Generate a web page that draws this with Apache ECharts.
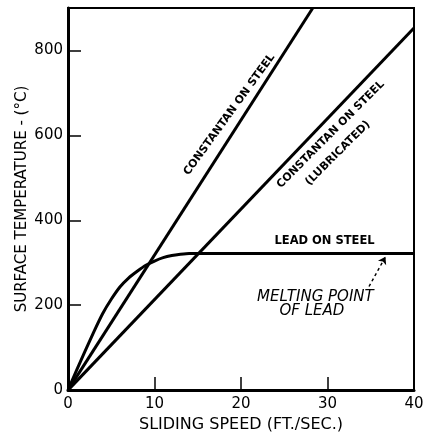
<!DOCTYPE html>
<html>
<head>
<meta charset="utf-8">
<script src="https://cdn.jsdelivr.net/npm/echarts@6/dist/echarts.min.js"></script>
<style>html,body{margin:0;padding:0;background:#fff}#c{width:436px;height:438px}</style>
</head>
<body>
<div id="c"></div>
<script>
// ---- data ----
const xTicks = [0, 10, 20, 30, 40];
const yTicks = [0, 200, 400, 600, 800];
const constantanSpeed = [0, 28.3];
const constantanTemp = [0, 900];
const lubricatedSpeed = [0, 40];
const lubricatedTemp = [0, 853];
const leadSpeed = [0, 1, 2, 3, 4, 5, 6, 7, 8, 9, 10, 11, 12, 13, 14, 15, 40];
const leadTemp = [0, 47, 93, 138, 180, 214, 243, 264, 280, 294, 304, 312, 317, 320, 322, 322, 322];
const arrowFrom = [34.8, 244];
const arrowTo = [36.7, 314];

const FONT = '"DejaVu Sans", "Liberation Sans", sans-serif';
const zip = (a, b) => a.map((v, i) => [v, b[i]]);

const chart = echarts.init(document.getElementById('c'), null, {renderer: 'canvas'});
const lineStyle = {color: '#000', width: 3};
chart.setOption({
  animation: false,
  backgroundColor: '#fff',
  grid: {left: 68, right: 22, top: 8, bottom: 46, show: true, borderColor: '#000', borderWidth: 2, backgroundColor: 'transparent'},
  xAxis: {
    type: 'value', min: 0, max: 40, interval: 10,
    name: 'SLIDING SPEED (FT./SEC.)', nameLocation: 'middle', nameGap: 22,
    nameTextStyle: {color: '#000', fontSize: 16, fontFamily: FONT},
    axisLine: {lineStyle: {color: '#000', width: 3}},
    axisTick: {inside: true, length: 13, lineStyle: {color: '#000', width: 1.5}, customValues: xTicks},
    axisLabel: {color: '#000', fontSize: 15, fontFamily: FONT, margin: 7, customValues: xTicks},
    splitLine: {show: false}
  },
  yAxis: {
    type: 'value', min: 0, max: 900, interval: 200,
    name: 'SURFACE TEMPERATURE - (°C)', nameLocation: 'middle', nameGap: 38, nameRotate: 90,
    nameMoveOverlap: false,
    nameTextStyle: {color: '#000', fontSize: 15, fontFamily: FONT},
    axisLine: {lineStyle: {color: '#000', width: 3}},
    axisTick: {inside: true, length: 13, lineStyle: {color: '#000', width: 1.5}, customValues: yTicks},
    axisLabel: {color: '#000', fontSize: 15, fontFamily: FONT, margin: 5, customValues: yTicks},
    splitLine: {show: false}
  },
  series: [
    {type: 'line', name: 'Constantan on steel', data: zip(constantanSpeed, constantanTemp), showSymbol: false, lineStyle: lineStyle, clip: true},
    {type: 'line', name: 'Constantan on steel (lubricated)', data: zip(lubricatedSpeed, lubricatedTemp), showSymbol: false, lineStyle: lineStyle, clip: true},
    {type: 'line', name: 'Lead on steel', data: zip(leadSpeed, leadTemp), showSymbol: false, smooth: 0.15, lineStyle: lineStyle, clip: true,
      markLine: {
        silent: true, symbol: ['none', 'arrow'], symbolSize: 7, label: {show: false},
        lineStyle: {color: '#000', width: 1.5, type: [3, 3]},
        data: [[{coord: arrowFrom}, {coord: arrowTo}]]
      }
    }
  ]
});

// annotation texts anchored in data coordinates
const notes = [
  {text: 'CONSTANTAN ON STEEL', at: [18.66, 649], rot: 54, font: 'bold 11px ' + FONT},
  {text: 'CONSTANTAN ON STEEL', at: [30.36, 602], rot: 45, font: 'bold 11px ' + FONT},
  {text: '(LUBRICATED)', at: [31.2, 558], rot: 45, font: 'bold 11px ' + FONT},
  {text: 'LEAD ON STEEL', at: [29.66, 352], rot: 0, font: 'bold 11.5px ' + FONT},
  {text: 'MELTING POINT', at: [28.6, 220], rot: 0, font: 'italic 15px ' + FONT},
  {text: 'OF LEAD', at: [28.2, 185], rot: 0, font: 'italic 15px ' + FONT}
];
chart.setOption({
  graphic: notes.map(n => {
    const p = chart.convertToPixel({gridIndex: 0}, n.at);
    return {type: 'text', x: p[0], y: p[1], rotation: n.rot * Math.PI / 180, silent: true,
      style: {text: n.text, font: n.font, fill: '#000', align: 'center', verticalAlign: 'middle'}};
  })
});
</script>
</body>
</html>
